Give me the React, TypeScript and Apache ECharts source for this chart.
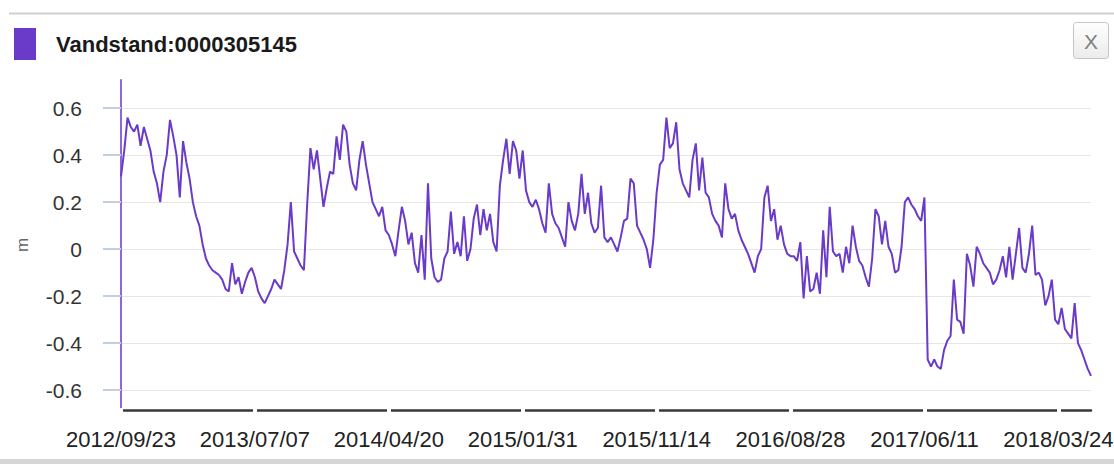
import React, { useEffect, useRef } from "react";
import * as echarts from "echarts";

const seriesName = "Vandstand:0000305145";
const yAxisName = "m";
const tickLabels = [
  "2012/09/23",
  "2013/07/07",
  "2014/04/20",
  "2015/01/31",
  "2015/11/14",
  "2016/08/28",
  "2017/06/11",
  "2018/03/24",
];
const pointsPerTick = 41;
const yTicks = [-0.6, -0.4, -0.2, 0, 0.2, 0.4, 0.6];
const yMin = -0.685;
const yMax = 0.72;

// water level (m), roughly one reading per week
const levels = [
  0.31, 0.42, 0.56, 0.52, 0.5, 0.53, 0.44, 0.52, 0.47, 0.42,
  0.33, 0.28, 0.2, 0.33, 0.4, 0.55, 0.48, 0.4, 0.22, 0.46,
  0.37, 0.3, 0.2, 0.14, 0.1, 0.02, -0.04, -0.07, -0.09, -0.1,
  -0.11, -0.13, -0.17, -0.18, -0.06, -0.15, -0.12, -0.19, -0.14, -0.1,
  -0.08, -0.12, -0.18, -0.21, -0.23, -0.2, -0.17, -0.13, -0.15, -0.17,
  -0.09, 0.02, 0.2, -0.01, -0.04, -0.07, -0.09, 0.19, 0.43, 0.34,
  0.42, 0.3, 0.18, 0.26, 0.33, 0.32, 0.48, 0.38, 0.53, 0.5,
  0.36, 0.28, 0.25, 0.38, 0.46, 0.36, 0.28, 0.2, 0.17, 0.14,
  0.18, 0.08, 0.06, 0.02, -0.03, 0.08, 0.18, 0.12, 0.02,
  0.07, -0.06, -0.1, 0.06, -0.13, 0.28, -0.04, -0.12, -0.14, -0.13,
  -0.04, -0.01, 0.16, -0.02, 0.03, -0.03, 0.14, -0.05, 0.0, 0.13,
  0.19, 0.06, 0.17, 0.08, 0.15, 0.03, -0.01, 0.27, 0.38, 0.47,
  0.32, 0.46, 0.42, 0.3, 0.42, 0.25, 0.2, 0.18, 0.21, 0.17,
  0.11, 0.07, 0.28, 0.15, 0.11, 0.09, 0.05, 0.01, 0.2, 0.12,
  0.08, 0.15, 0.32, 0.15, 0.24, 0.11, 0.07, 0.09, 0.27, 0.05,
  0.03, 0.05, 0.02, -0.01, 0.05, 0.12, 0.13, 0.3, 0.28, 0.1,
  0.07, 0.04, 0.0, -0.08, 0.04, 0.24, 0.36, 0.38, 0.56, 0.43,
  0.45, 0.54, 0.34, 0.28, 0.25, 0.22, 0.38, 0.45, 0.25,
  0.39, 0.24, 0.22, 0.15, 0.12, 0.1, 0.05, 0.28, 0.17, 0.13,
  0.15, 0.08, 0.04, 0.01, -0.02, -0.06, -0.1, -0.03, 0.0, 0.22,
  0.27, 0.12, 0.17, 0.04, 0.1, 0.02, -0.02, -0.03, -0.03, -0.05,
  0.03, -0.21, -0.03, -0.18, -0.17, -0.1, -0.19, 0.08, -0.12, 0.18,
  -0.01, -0.03, -0.02, -0.1, 0.01, -0.06, 0.1, 0.01, -0.05, -0.07,
  -0.12, -0.16, -0.04, 0.17, 0.14, 0.02, 0.12, 0.01, -0.02, -0.1,
  -0.09, 0.01, 0.2, 0.22, 0.19, 0.17, 0.14, 0.12, 0.22,
  -0.47, -0.5, -0.47, -0.5, -0.51, -0.43, -0.39, -0.37, -0.13, -0.3,
  -0.31, -0.36, -0.02, -0.07, -0.16, 0.01, -0.02, -0.06, -0.08, -0.1,
  -0.15, -0.13, -0.09, -0.03, -0.12, 0.01, -0.13, -0.02, 0.09, -0.08,
  -0.1, -0.02, 0.1, -0.11, -0.1, -0.13, -0.24, -0.2, -0.13, -0.3,
  -0.32, -0.25, -0.34, -0.36, -0.38, -0.23, -0.4, -0.43, -0.47, -0.51,
  -0.54,
];

const lineColor = "#6a3bc8";
const fontFamily = 'Arial, "Liberation Sans", sans-serif';

export default function App() {
  const ref = useRef<HTMLDivElement>(null);

  useEffect(() => {
    if (!ref.current) return;
    const chart = echarts.init(ref.current, null, { renderer: "svg" });
    const categories = levels.map((_, i) => String(i));

    chart.setOption({
      animation: false,
      backgroundColor: "#ffffff",
      textStyle: { fontFamily },
      legend: {
        left: 14,
        top: 28,
        padding: 0,
        icon: "rect",
        itemWidth: 22,
        itemHeight: 32,
        selectedMode: false,
        data: [seriesName],
        textStyle: {
          fontFamily,
          fontSize: 22,
          fontWeight: "bold",
          color: "#1a1a1a",
          padding: [0, 0, 0, 15],
        },
      },
      grid: {
        left: 121,
        right: 23,
        top: 80,
        bottom: 54,
        containLabel: false,
        outerBoundsMode: "none",
      },
      xAxis: {
        type: "category",
        data: categories,
        boundaryGap: false,
        axisLine: {
          onZero: false,
          lineStyle: { color: "#383838", width: 2.5 },
        },
        axisTick: {
          show: true,
          interval: pointsPerTick - 1,
          length: 3,
          lineStyle: { color: "#ffffff", width: 4, cap: "square" },
        },
        axisLabel: {
          interval: pointsPerTick - 1,
          margin: 18,
          fontSize: 22,
          color: "#222222",
          fontFamily,
          formatter: (_v: string, i: number) =>
            i % pointsPerTick === 0 ? tickLabels[i / pointsPerTick] ?? "" : "",
        },
        splitLine: { show: false },
      },
      yAxis: {
        type: "value",
        min: yMin,
        max: yMax,
        name: yAxisName,
        nameLocation: "middle",
        nameGap: 90,
        nameTextStyle: { color: "#666666", fontSize: 17, fontFamily },
        axisLine: { show: true, lineStyle: { color: "#8e66dc", width: 2 } },
        axisTick: {
          show: true,
          length: 18,
          customValues: yTicks,
          lineStyle: { color: "#c0d0e0", width: 2 },
        },
        axisLabel: {
          customValues: yTicks,
          margin: 39,
          fontSize: 21,
          color: "#333333",
          fontFamily,
          formatter: (v: number) => String(Math.round(v * 10) / 10),
        },
        splitLine: { show: true, lineStyle: { color: "#e6e6e6", width: 1 } },
      },
      series: [
        {
          name: seriesName,
          type: "line",
          data: levels,
          showSymbol: false,
          symbol: "none",
          lineStyle: { color: lineColor, width: 2 },
          itemStyle: { color: lineColor },
        },
      ],
      graphic: [
        {
          type: "line",
          shape: { x1: 9, y1: 13.5, x2: 1114, y2: 13.5 },
          style: { stroke: "#cfcfcf", lineWidth: 2 },
          silent: true,
        },
        {
          type: "rect",
          shape: { x: 1073.5, y: 22.5, width: 35, height: 36, r: 3 },
          style: {
            fill: new echarts.graphic.LinearGradient(0, 0, 0, 1, [
              { offset: 0, color: "#ffffff" },
              { offset: 1, color: "#ebebeb" },
            ]),
            stroke: "#c4c4c4",
            lineWidth: 1,
          },
        },
        {
          type: "text",
          x: 1091,
          y: 41,
          style: {
            text: "X",
            font: `21px ${fontFamily}`,
            fill: "#808080",
            align: "center",
            verticalAlign: "middle",
          },
        },
        {
          type: "rect",
          shape: { x: 0, y: 459, width: 1114, height: 5 },
          style: { fill: "#d6d6d6" },
          silent: true,
        },
      ],
    });

    return () => chart.dispose();
  }, []);

  return (
    <div
      ref={ref}
      style={{
        position: "fixed",
        left: 0,
        top: 0,
        width: 1114,
        height: 464,
        background: "#ffffff",
      }}
    />
  );
}
